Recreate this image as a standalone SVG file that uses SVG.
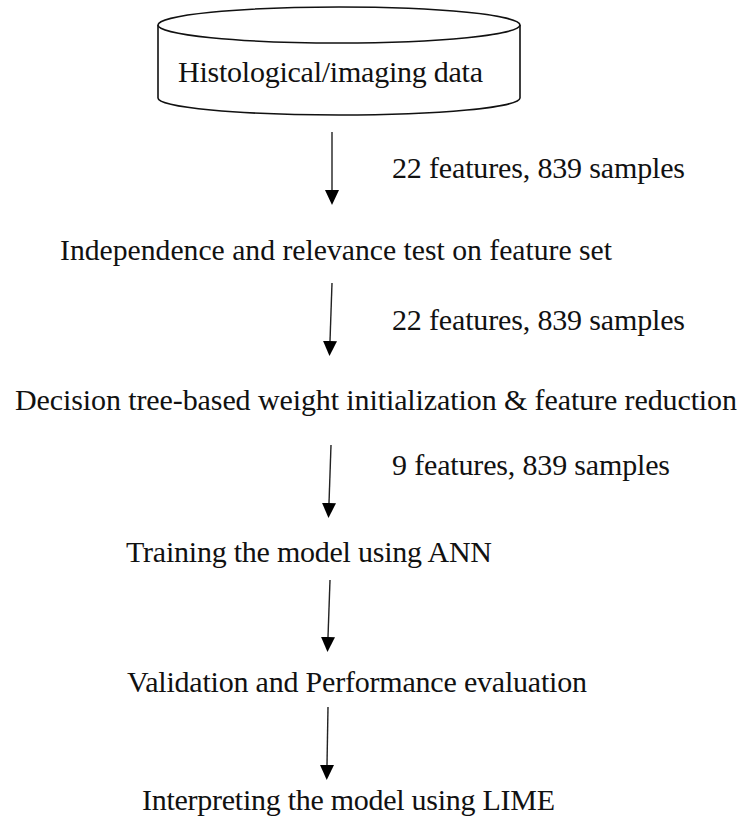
<svg xmlns="http://www.w3.org/2000/svg" width="741" height="817" viewBox="0 0 741 817">
  <style>
    text { font-family: "Liberation Serif", serif; font-size: 30px; fill: #111; }
    .edge { stroke: #222; stroke-width: 1.4; fill: none; marker-end: url(#head); }
    .db { stroke: #111; stroke-width: 1.6; fill: #fff; }
  </style>
  <defs>
    <marker id="head" viewBox="0 0 15 14" refX="0" refY="7" markerWidth="15" markerHeight="14" markerUnits="userSpaceOnUse" orient="auto">
      <path d="M0,0 L15,7 L0,14 z" fill="#000"/>
    </marker>
  </defs>
  <rect width="741" height="817" fill="#fff"/>

  <!-- data source cylinder -->
  <g id="data">
    <path class="db" d="M158,25 L158,98 A181,17 0 0 0 520,98 L520,25"/>
    <ellipse class="db" cx="339" cy="25" rx="181" ry="18"/>
    <text x="178" y="82" textLength="305" lengthAdjust="spacing">Histological/imaging data</text>
  </g>

  <g id="independence">
    <text x="60" y="260" textLength="552" lengthAdjust="spacingAndGlyphs">Independence and relevance test on feature set</text>
  </g>

  <g id="decision">
    <text x="15" y="410" textLength="722" lengthAdjust="spacing">Decision tree-based weight initialization &amp; feature reduction</text>
  </g>

  <g id="training">
    <text x="126" y="562" textLength="366" lengthAdjust="spacing">Training the model using ANN</text>
  </g>

  <g id="validation">
    <text x="127" y="692" textLength="460" lengthAdjust="spacing">Validation and Performance evaluation</text>
  </g>

  <g id="interpreting">
    <text x="142" y="810" textLength="413" lengthAdjust="spacing">Interpreting the model using LIME</text>
  </g>

  <!-- connectors with their labels -->
  <g id="connectors">
    <line class="edge" x1="332" y1="132" x2="332" y2="190"/>
    <line class="edge" x1="332" y1="283" x2="330" y2="341"/>
    <line class="edge" x1="331" y1="445" x2="329" y2="503"/>
    <line class="edge" x1="330" y1="580" x2="328" y2="637"/>
    <line class="edge" x1="328" y1="707" x2="327" y2="765"/>
    <text x="392" y="178" textLength="293" lengthAdjust="spacing">22 features, 839 samples</text>
    <text x="392" y="330" textLength="293" lengthAdjust="spacing">22 features, 839 samples</text>
    <text x="392" y="475" textLength="278" lengthAdjust="spacing">9 features, 839 samples</text>
  </g>
</svg>
